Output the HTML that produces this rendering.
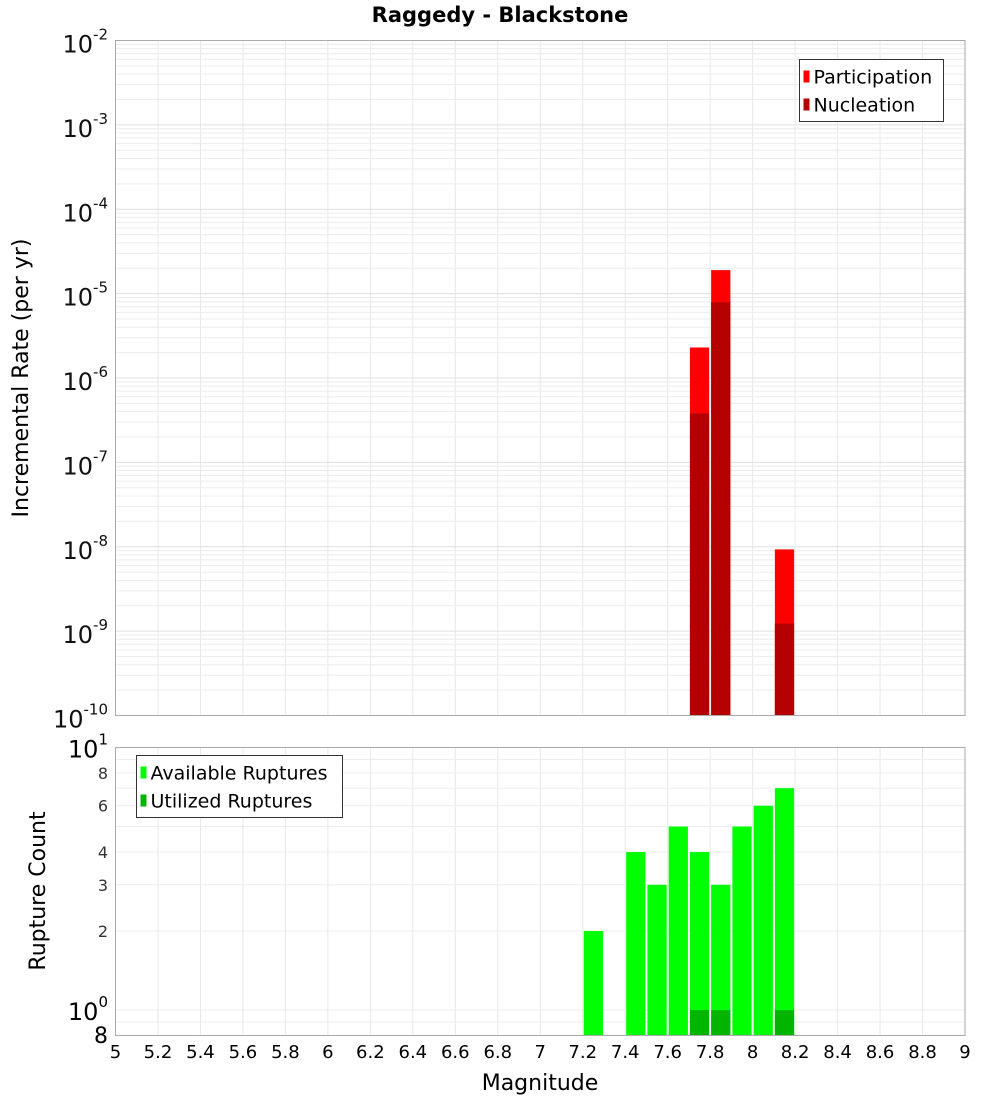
<!DOCTYPE html>
<html><head><meta charset="utf-8"><style>
body{margin:0;background:#fff;font-family:"DejaVu Sans","Liberation Sans",sans-serif}
svg text{font-family:"DejaVu Sans","Liberation Sans",sans-serif}
</style></head><body>
<svg id="c" width="1000" height="1100" xmlns="http://www.w3.org/2000/svg">
<text x="500" y="22" text-anchor="middle" font-size="21" font-weight="bold">Raggedy - Blackstone</text>
<text transform="translate(28,378) rotate(-90)" text-anchor="middle" font-size="22">Incremental Rate (per yr)</text>
<text transform="translate(45,891) rotate(-90)" text-anchor="middle" font-size="22">Rupture Count</text>
<text x="540" y="1090" text-anchor="middle" font-size="22">Magnitude</text>
<g id="top"></g><g id="bot"></g>
</svg>
<script>
const binCenters=[7.75,7.85,8.15];
const participation=[2.3e-6,1.9e-5,9.3e-9];
const nucleation=[3.8e-7,7.9e-6,1.23e-9];
const countMags=[7.25,7.45,7.55,7.65,7.75,7.85,7.95,8.05,8.15];
const available=[2,4,3,5,4,3,5,6,7];
const utilMags=[7.75,7.85,8.15];
const utilized=[1,1,1];
const xTicks=[5,5.2,5.4,5.6,5.8,6,6.2,6.4,6.6,6.8,7,7.2,7.4,7.6,7.8,8,8.2,8.4,8.6,8.8,9];

const NS='http://www.w3.org/2000/svg';
const L=115.5,R=965;
const T1=40.5,B1=715.5,T2=747.5,B2=1035.5;
const x=m=>L+(m-5)/4*(R-L);
const y1=v=>T1+(-2-Math.log10(v))/8*(B1-T1);
const y2=v=>T2+(1-Math.log10(v))/(1-Math.log10(0.8))*(B2-T2);
function mk(p,tag,a,txt){const e=document.createElementNS(NS,tag);for(const k in a)e.setAttribute(k,a[k]);if(txt!==undefined)e.textContent=txt;p.appendChild(e);return e;}
const topG=document.getElementById('top'),botG=document.getElementById('bot');

for(const t of xTicks){
 let g=mk(topG,'line',{x1:x(t),x2:x(t),y1:T1,y2:B1,stroke:'#e8e8e8'});
 
 
 g=mk(botG,'line',{x1:x(t),x2:x(t),y1:T2,y2:B2,stroke:'#e8e8e8'});
 
 
 const lb=mk(botG,'text',{x:x(t),y:1058,'text-anchor':'middle','font-size':18},String(t));
 
 
}
for(let d=-10;d<-2;d++){for(let k=1;k<10;k++){const v=k*Math.pow(10,d);const yy=y1(v);
 const g=mk(topG,'line',{x1:L,x2:R,y1:yy,y2:yy,stroke:k==1?'#e0e0e0':'#ececec'});
 
 }}
for(let d=-10;d<=-2;d++){
 const t=mk(topG,'text',{x:108,y:y1(Math.pow(10,d))+12,'text-anchor':'end','font-size':24,fill:'#111'});
 
 
 mk(t,'tspan',{},'10');mk(t,'tspan',{dy:-13,'font-size':15},String(d));}
for(const v of [0.8,0.9,1,2,3,4,5,6,7,8,9,10]){const yy=y2(v);
 const g=mk(botG,'line',{x1:L,x2:R,y1:yy,y2:yy,stroke:'#ececec'});
 
 }
for(const v of [2,3,4,6,8]){const t=mk(botG,'text',{x:108,y:y2(v)+6,'text-anchor':'end','font-size':16,fill:'#333'},String(v));
 
 }
{let t=mk(botG,'text',{x:108,y:1043,'text-anchor':'end','font-size':22},'8');
 
 
 for(const [v,e] of [[1,'0'],[10,'1']]){t=mk(botG,'text',{x:108,y:y2(v)+10,'text-anchor':'end','font-size':24});
 
 
 mk(t,'tspan',{},'10');mk(t,'tspan',{dy:-13,'font-size':15},e+' ');}}

const bw=0.1*(R-L)/4-2;
binCenters.forEach((m,i)=>{
 let r=mk(topG,'rect',{x:x(m)-bw/2,y:y1(participation[i]),width:bw,height:B1-y1(participation[i]),fill:'#ff0000'});
 
 
 r=mk(topG,'rect',{x:x(m)-bw/2,y:y1(nucleation[i]),width:bw,height:B1-y1(nucleation[i]),fill:'#b40000'});
 
 
});
countMags.forEach((m,i)=>{
 const r=mk(botG,'rect',{x:x(m)-bw/2,y:y2(available[i]),width:bw,height:B2-y2(available[i]),fill:'#00ff00'});
 
 
});
utilMags.forEach((m,i)=>{
 const r=mk(botG,'rect',{x:x(m)-bw/2,y:y2(utilized[i]),width:bw,height:B2-y2(utilized[i]),fill:'#00b400'});
 
 
});
let f=mk(topG,'rect',{x:L,y:T1,width:R-L,height:B1-T1,fill:'none',stroke:'#aaa'});


f=mk(botG,'rect',{x:L,y:T2,width:R-L,height:B2-T2,fill:'none',stroke:'#aaa'});



function legend(p,lx,ly,w,items,name){
 const g=mk(p,'g',{});
 
 
 mk(g,'rect',{x:lx,y:ly,width:w,height:items.length*28+6,fill:'#fff',stroke:'#333'});
 items.forEach((it,i)=>{
  const e=mk(g,'g',{});
  
  
  mk(e,'rect',{x:lx+4,y:ly+11+i*28,width:6,height:12,fill:it[1]});
  mk(e,'text',{x:lx+14,y:ly+24+i*28,'font-size':19},it[0]);
 });
}
legend(topG,799.5,59.5,144,[['Participation','#ff0000'],['Nucleation','#b40000']],'top-legend');
legend(botG,136.5,755.5,206,[['Available Ruptures','#00ff00'],['Utilized Ruptures','#00b400']],'bottom-legend');
</script>
</body></html>
